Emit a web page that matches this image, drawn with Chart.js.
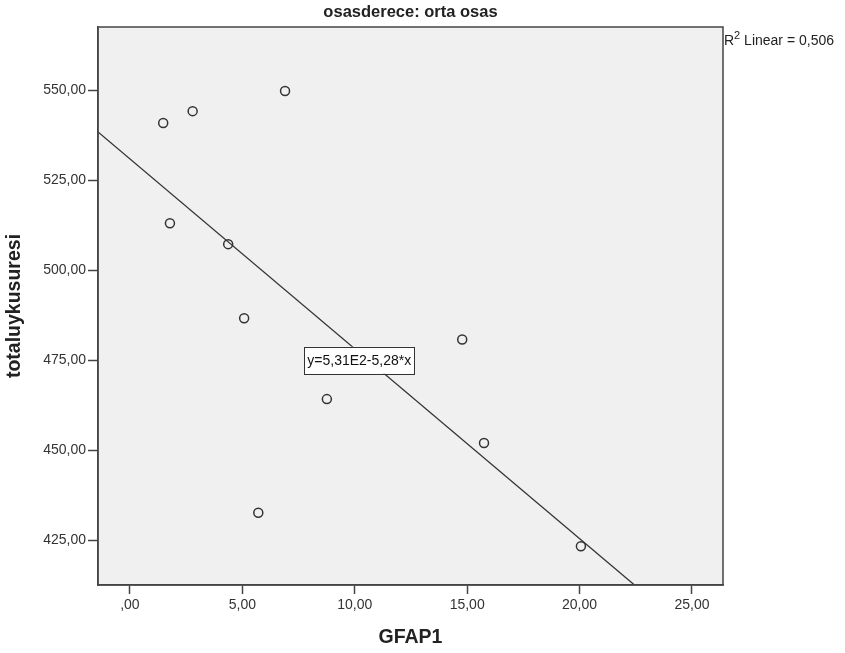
<!DOCTYPE html>
<html>
<head>
<meta charset="utf-8">
<script src="https://cdn.jsdelivr.net/npm/chart.js@4"></script>
<style>
  html, body { margin: 0; padding: 0; background: #fff; }
  #wrap { width: 845px; height: 653px; }
</style>
</head>
<body>
<div id="wrap"><canvas id="c" width="845" height="653"></canvas></div>
<script>
// values
const gfap1 = [1.48, 2.79, 6.90, 1.78, 4.37, 5.08, 14.78, 8.76, 5.71, 15.75, 20.06];
const totalUyku = [541.0, 544.3, 549.9, 513.1, 507.3, 486.7, 480.8, 464.2, 432.6, 452.0, 423.3];

const fitIntercept = 531;
const fitSlope = -5.28;
const fitText = 'y=5,31E2-5,28*x';
const r2Text = ' Linear = 0,506';
const chartTitle = 'osasderece: orta osas';

const xTicks = [0, 5, 10, 15, 20, 25];
const xTickLabels = [',00', '5,00', '10,00', '15,00', '20,00', '25,00'];
const yTicks = [425, 450, 475, 500, 525, 550];
const yTickLabels = ['425,00', '450,00', '475,00', '500,00', '525,00', '550,00'];

const xMin = -1.42, xMax = 26.38;
const yMin = 412.5, yMax = 567.7;
const labelPos = { x: 10.2, y: 475 };

const FONT = '"Liberation Sans", Arial, sans-serif';
const AXIS = '#444';

const points = gfap1.map((x, i) => ({ x, y: totalUyku[i] }));
const xEnd = Math.min(xMax, (yMin - fitIntercept) / fitSlope);
const fitLine = [
  { x: xMin, y: fitIntercept + fitSlope * xMin },
  { x: xEnd, y: fitIntercept + fitSlope * xEnd }
];

const decor = {
  id: 'decor',
  beforeDraw(chart) {
    const { ctx, chartArea: a } = chart;
    ctx.save();
    ctx.fillStyle = '#f0f0f0';
    ctx.fillRect(a.left, a.top, a.right - a.left, a.bottom - a.top);
    ctx.restore();
  },
  afterDraw(chart) {
    const { ctx, chartArea: a, scales } = chart;
    ctx.save();
    // frame
    ctx.strokeStyle = AXIS;
    ctx.lineWidth = 1.5;
    ctx.strokeRect(a.left, a.top, a.right - a.left, a.bottom - a.top);

    // title
    ctx.fillStyle = '#222';
    ctx.font = 'bold 16.5px ' + FONT;
    ctx.textAlign = 'center';
    ctx.textBaseline = 'middle';
    ctx.fillText(chartTitle, (a.left + a.right) / 2, 12);

    // R2 note
    ctx.textAlign = 'left';
    ctx.font = '14px ' + FONT;
    let x = a.right + 1;
    ctx.fillText('R', x, 41);
    x += ctx.measureText('R').width;
    ctx.font = '11px ' + FONT;
    ctx.fillText('2', x, 36);
    x += ctx.measureText('2').width;
    ctx.font = '14px ' + FONT;
    ctx.fillText(r2Text, x, 41);

    // equation box
    const cx = scales.x.getPixelForValue(labelPos.x);
    const cy = scales.y.getPixelForValue(labelPos.y);
    ctx.font = '14px ' + FONT;
    const w = ctx.measureText(fitText).width + 6;
    const h = 27;
    ctx.fillStyle = '#fff';
    ctx.fillRect(cx - w / 2, cy - h / 2, w, h);
    ctx.strokeStyle = '#333';
    ctx.lineWidth = 1;
    ctx.strokeRect(Math.round(cx - w / 2) + 0.5, Math.round(cy - h / 2) + 0.5, Math.round(w), h);
    ctx.fillStyle = '#111';
    ctx.textAlign = 'center';
    ctx.fillText(fitText, cx, cy + 1);
    ctx.restore();
  }
};

new Chart(document.getElementById('c'), {
  type: 'scatter',
  data: {
    datasets: [
      {
        label: 'totaluykusuresi',
        data: points,
        pointStyle: 'circle',
        pointRadius: 4.5,
        pointBorderWidth: 1.5,
        pointBackgroundColor: 'rgba(0,0,0,0)',
        pointBorderColor: '#333'
      },
      {
        type: 'line',
        label: 'Linear',
        data: fitLine,
        borderColor: '#333',
        borderWidth: 1.3,
        pointRadius: 0,
        fill: false
      }
    ]
  },
  options: {
    responsive: false,
    animation: false,
    layout: { padding: { top: 27, right: 122, bottom: 0, left: 0 } },
    plugins: {
      legend: { display: false },
      tooltip: { enabled: false },
      title: { display: false }
    },
    scales: {
      x: {
        type: 'linear',
        min: xMin,
        max: xMax,
        afterBuildTicks: s => { s.ticks = xTicks.map(v => ({ value: v })); },
        afterFit: s => { s.height = 68; },
        ticks: {
          callback: v => xTickLabels[xTicks.indexOf(v)],
          color: '#333',
          font: { family: FONT, size: 14 },
          padding: 3,
          maxRotation: 0
        },
        grid: { drawOnChartArea: false, tickLength: 9, tickColor: AXIS, tickWidth: 1.5 },
        border: { display: true, color: AXIS, width: 1.5 },
        title: {
          display: true,
          text: 'GFAP1',
          color: '#222',
          font: { family: FONT, size: 19.5, weight: 'bold' },
          padding: { top: 0, bottom: 4 }
        }
      },
      y: {
        type: 'linear',
        min: yMin,
        max: yMax,
        afterBuildTicks: s => { s.ticks = yTicks.map(v => ({ value: v })); },
        afterFit: s => { s.width = 98; },
        ticks: {
          callback: v => yTickLabels[yTicks.indexOf(v)],
          color: '#333',
          font: { family: FONT, size: 14 },
          padding: 2
        },
        grid: { drawOnChartArea: false, tickLength: 10, tickColor: AXIS, tickWidth: 1.5 },
        border: { display: true, color: AXIS, width: 1.5 },
        title: {
          display: true,
          text: 'totaluykusuresi',
          color: '#222',
          font: { family: FONT, size: 19.5, weight: 'bold' },
          padding: { top: 3, bottom: 0 }
        }
      }
    }
  },
  plugins: [decor]
});
</script>
</body>
</html>
